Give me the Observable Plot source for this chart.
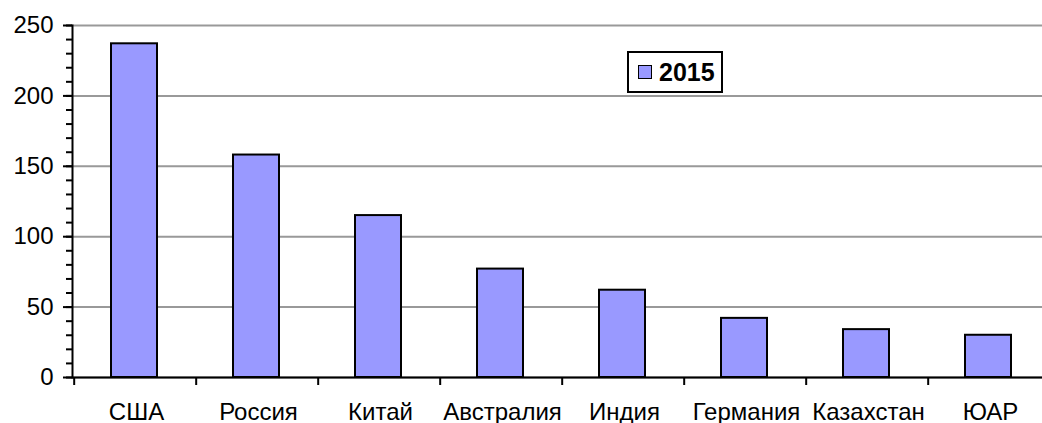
<!DOCTYPE html>
<html>
<head>
<meta charset="utf-8">
<script src="https://cdn.jsdelivr.net/npm/d3@7"></script>
<script src="https://cdn.jsdelivr.net/npm/@observablehq/plot@0.6"></script>
<style>
  html, body { margin: 0; padding: 0; background: #fff; }
  #wrap { position: relative; width: 1042px; height: 423px; overflow: hidden; }
  #legend {
    position: absolute; left: 627px; top: 51px; width: 92px; height: 38px;
    border: 2px solid #000; background: #fff; box-sizing: content-box;
    font-family: "Liberation Sans", Arial, sans-serif; font-weight: bold; font-size: 25px;
    display: flex; align-items: center;
  }
  #legend .sw { width: 12px; height: 12px; border: 1.5px solid #000; background: #9999FF; margin-left: 9px; margin-right: 7px; }
</style>
</head>
<body>
<div id="wrap"></div>
<script>
const countries = ["США", "Россия", "Китай", "Австралия", "Индия", "Германия", "Казахстан", "ЮАР"];
const values2015 = [237, 158, 115, 77, 62, 42, 34, 30];
const seriesName = "2015";
const majorTicks = [0, 50, 100, 150, 200, 250];
const minorTicks = d3.range(0, 251, 10);

const data = countries.map((c, i) => ({country: c, value: values2015[i]}));

const W = 1042, H = 423;
const step = (1052 - 71) / countries.length;

const chart = Plot.plot({
  width: W,
  height: H,
  marginLeft: 72,
  marginRight: 0,
  marginTop: 25,
  marginBottom: 46,
  style: {fontFamily: "'Liberation Sans', Arial, sans-serif", fontSize: "24px", color: "#000", background: "#fff", overflow: "visible"},
  x: {domain: countries, range: [71, 1052], paddingInner: 0.62, paddingOuter: 0.31, axis: null, label: null},
  y: {domain: [0, 250], axis: null, label: null},
  marks: [
    Plot.gridY(majorTicks, {stroke: "#999", strokeOpacity: 1, strokeWidth: 2}),
    Plot.barY(data, {x: "country", y: "value", fill: "#9999FF", stroke: "#000", strokeWidth: 2}),
    Plot.ruleY([0], {stroke: "#000", strokeWidth: 2}),
    Plot.frame({anchor: "left", stroke: "#000", strokeWidth: 2}),
    Plot.axisY({ticks: minorTicks, tickSize: 6, text: null, label: null, stroke: "#000", strokeWidth: 2}),
    Plot.axisY({ticks: majorTicks, tickSize: 9, tickPadding: 10, label: null, stroke: "#000", strokeWidth: 2, fontSize: 24}),
    Plot.axisX({tickSize: 8, text: null, label: null, dx: -step / 2 + 1, stroke: "#000", strokeWidth: 2}),
    Plot.axisX({tickSize: 0, tickPadding: 25, fontSize: 24, label: null, dx: 2})
  ]
});

const wrap = document.getElementById("wrap");
wrap.appendChild(chart);
const legend = document.createElement("div");
legend.id = "legend";
legend.innerHTML = `<div class="sw"></div><span>${seriesName}</span>`;
wrap.appendChild(legend);
</script>
</body>
</html>
